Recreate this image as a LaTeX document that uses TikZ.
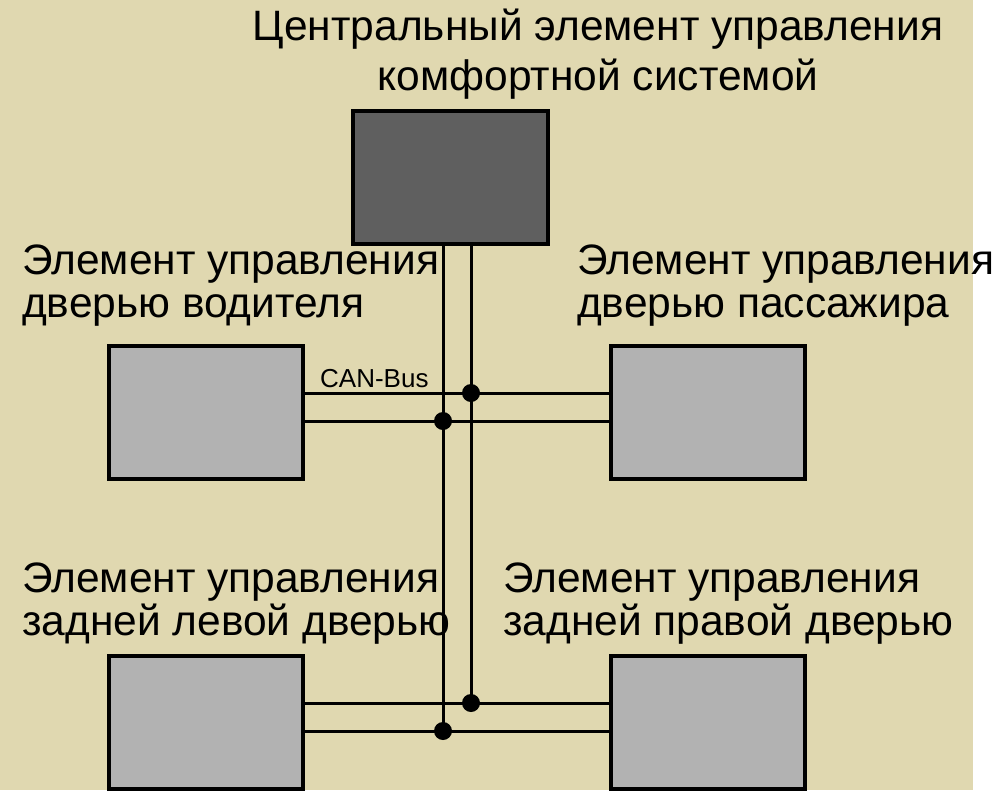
\documentclass[tikz,border=0pt]{standalone}
\usepackage{fontspec}
\setmainfont{Liberation Sans}
\usetikzlibrary{positioning, calc}
\definecolor{panelbg}{HTML}{E0D8B0}
\definecolor{ecugrey}{HTML}{B2B2B2}
\definecolor{ctrlgrey}{HTML}{5F5F5F}
\tikzset{
	ecu/.style={draw, line width=4pt, fill=ecugrey, inner sep=0pt, minimum width=194pt, minimum height=133pt},
	ctrlbox/.style={ecu, fill=ctrlgrey, minimum width=195pt},
	lbl/.style={inner sep=0pt, anchor=base west, align=left, font=\fontsize{42.5}{43}\selectfont},
	wire/.style={line width=3pt},
	joint/.style={circle, fill=black, inner sep=0pt, minimum size=18pt}
}

\begin{document}
\begin{tikzpicture}[x=1pt, y=-1pt]
			\useasboundingbox (0,0) rectangle (1006,790);
			\fill[panelbg] (0,0) rectangle (973,790);
			% steuergeraete
			\node[ctrlbox] (zsg) at (450.5,177.5) {};
			\node[ecu] (tfs) at (206,412.5) {};
			\node[ecu] (tbf) at (708,412.5) {};
			\node[ecu] (thl) at (206,722.5) {};
			\node[ecu] (thr) at (708,722.5) {};
			% beschriftung
			\node[inner sep=0pt, anchor=base, align=center, font=\fontsize{42.5}{50}\selectfont] (zsgtext) at (598,90) {Центральный элемент управления\\комфортной системой};
			\node[lbl] (tfstext) at (22,317) {Элемент управления\\дверью водителя};
			\node[lbl] (tbftext) at (577,317) {Элемент управления\\дверью пассажира};
			\node[lbl] (thltext) at (22,635) {Элемент управления\\задней левой дверью};
			\node[lbl] (thrtext) at (503,635) {Элемент управления\\задней правой дверью};
			% knoten am bus
			\coordinate (kh1) at (471,393);
			\coordinate (kl1) at (443,421);
			\coordinate (kh2) at (471,703);
			\coordinate (kl2) at (443,731);
			% leitungen
			\draw[wire] (tfs.east |- kh1) -- (tbf.west |- kh1);
			\draw[wire] (tfs.east |- kl1) -- (tbf.west |- kl1);
			\draw[wire] (thl.east |- kh2) -- (thr.west |- kh2);
			\draw[wire] (thl.east |- kl2) -- (thr.west |- kl2);
			\draw[wire] (zsg.south -| kl1) -- (kl2);
			\draw[wire] (zsg.south -| kh1) -- (kh2);
			\node[joint] at (kh1) {};
			\node[joint] at (kl1) {};
			\node[joint] at (kh2) {};
			\node[joint] at (kl2) {};
			\node[inner sep=0pt, anchor=base west, font=\fontsize{26}{30}\selectfont] (bus) at (320,387) {CAN-Bus};
\end{tikzpicture}
\end{document}
